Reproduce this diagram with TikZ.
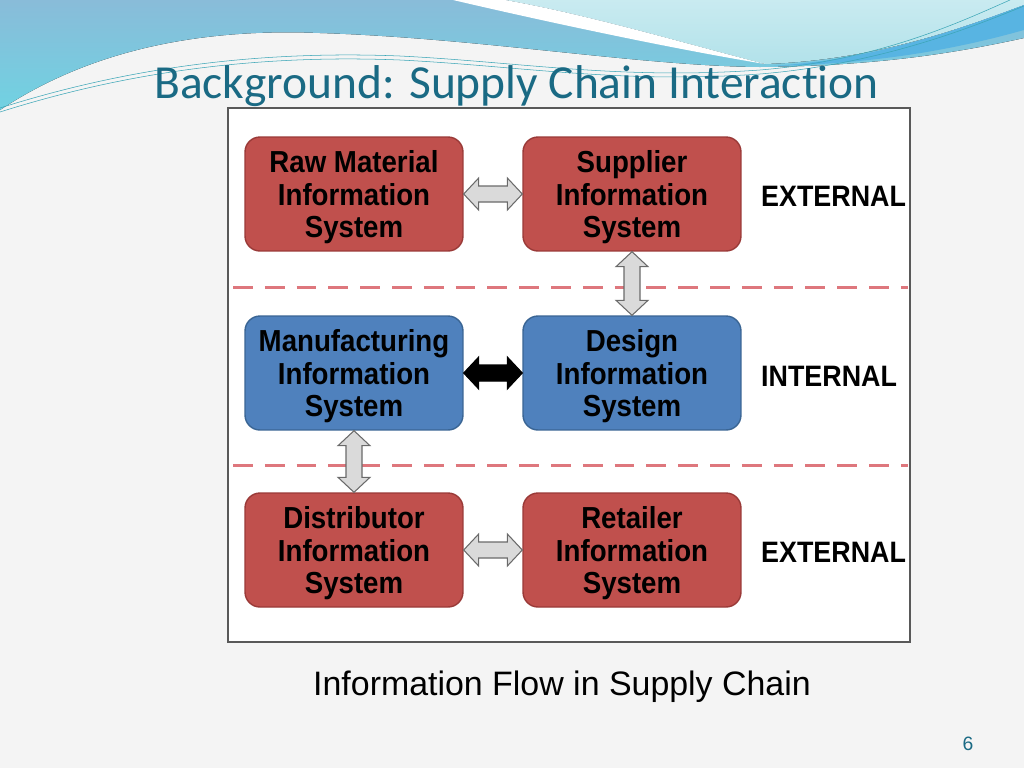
\documentclass[tikz,border=0pt]{standalone}
\usepackage{fontspec}
\setmainfont{Liberation Sans}
\newfontfamily\titlefont[Ligatures={NoCommon,NoContextual,NoRare}]{Carlito}
\newfontfamily\boxfont[FakeStretch=0.91]{Liberation Sans}
\usetikzlibrary{calc}

\definecolor{slidebg}{HTML}{F4F4F4}
\definecolor{hdrblue}{HTML}{89BCD9}
\definecolor{hdrcyan}{HTML}{70D2E2}
\definecolor{hdrlight}{HTML}{B2E2EA}
\definecolor{hdrdeep}{HTML}{58B4E2}
\definecolor{hairteal}{HTML}{3AA5B6}
\definecolor{titleteal}{HTML}{1A6A84}
\definecolor{boxred}{HTML}{C0504D}
\definecolor{boxredline}{HTML}{9A3A38}
\definecolor{boxblue}{HTML}{4F81BD}
\definecolor{boxblueline}{HTML}{3A6594}
\definecolor{dashred}{HTML}{DE777D}
\definecolor{linkfill}{HTML}{DADADA}
\definecolor{linkline}{HTML}{6A6A6A}

\begin{document}
\begin{tikzpicture}[x=0.02cm, y=-0.02cm]
	\tikzset{
		sysbox/.style = {shape=rectangle, rounded corners=8.5pt, minimum width=4.36cm, minimum height=2.28cm,
			inner sep=0pt, align=center, line width=0.8pt, text depth=-4pt, font=\boxfont\bfseries\fontsize{17.3}{18.7}\selectfont},
		extbox/.style = {sysbox, fill=boxred, draw=boxredline},
		intbox/.style = {sysbox, fill=boxblue, draw=boxblueline},
		zone/.style = {anchor=west, font=\boxfont\bfseries\fontsize{16.8}{18}\selectfont},
		divider/.style = {draw=dashred, line width=1.7pt, dash pattern=on 11.3pt off 6.8pt},
		hlink/.style = {line width=0.6pt, line join=miter, to path={-- ++(15,-16) -- ++(0,8) -- ($(\tikztotarget)+(-15,-8)$) -- ++(0,-8) -- (\tikztotarget)
			-- ++(-15,16) -- ++(0,-8) -- ($(\tikztostart)+(15,8)$) -- ++(0,8) -- cycle}},
		vlink/.style = {line width=0.6pt, line join=miter, to path={-- ++(16,15) -- ++(-8,0) -- ($(\tikztotarget)+(8,-15)$) -- ++(8,0) -- (\tikztotarget)
			-- ++(-16,-15) -- ++(8,0) -- ($(\tikztostart)+(-8,15)$) -- ++(-8,0) -- cycle}},
		greylink/.style = {fill=linkfill, draw=linkline},
		blacklink/.style = {fill=black, draw=black}
	}

	% slide background and header swoosh
	\useasboundingbox (0,0) rectangle (1024,768);
	\fill[slidebg] (0,0) rectangle (1024,768);
	\fill[top color=hdrblue, bottom color=hdrcyan] (0,0) -- (1024,0) -- (1024,38) .. controls (960,52) and (880,66) .. (760,67)
		.. controls (640,66) and (480,38) .. (320,33) .. controls (200,28) and (90,50) .. (0,110) -- cycle;
	\fill[top color=hdrlight!70!white, bottom color=hdrlight] (505,0) .. controls (590,15) and (690,45) .. (765,64)
		.. controls (880,60) and (970,25) .. (1024,5) -- (1024,0) -- cycle;
	\fill[hdrdeep] (770,66) .. controls (880,60) and (970,25) .. (1024,5) -- (1024,30) .. controls (960,48) and (880,64) .. (770,66) -- cycle;
	\fill[white] (453,0) .. controls (560,25) and (680,50) .. (765,64) .. controls (690,45) and (590,15) .. (505,0) -- cycle;
	\draw[hairteal, line width=0.3pt] (0,108) .. controls (120,70) and (250,50) .. (400,56) .. controls (520,62) and (620,80) .. (760,70) .. controls (880,60) and (960,22) .. (1010,0);
	\draw[hairteal, line width=0.3pt] (0,112) .. controls (120,74) and (250,54) .. (400,60) .. controls (520,66) and (620,84) .. (760,74) .. controls (880,64) and (970,28) .. (1024,6);

	\node[anchor=base west, text=titleteal, font=\titlefont\fontsize{27}{32}\selectfont] (title) at (148,98) {Background: Supply Chain Interact\kern0pt{}ion};

	% diagram frame
	\fill[white] (228,108) rectangle (910,642);
	\draw[black!65, line width=1.5pt] (228,108) rectangle (910,642);

	\node[extbox] (raw) at (354,194) {Raw Material\\Information\\System};
	\node[extbox] (sup) at (632,194) {Supplier\\Information\\System};
	\node[intbox] (man) at (354,373) {Manufacturing\\Information\\System};
	\node[intbox] (des) at (632,373) {Design\\Information\\System};
	\node[extbox] (dis) at (354,550) {Distributor\\Information\\System};
	\node[extbox] (ret) at (632,550) {Retailer\\Information\\System};

	\node[zone] (ext1) at (755,196) {EXTERNAL};
	\node[zone] (int) at (755,376) {INTERNAL};
	\node[zone] (ext2) at (755,552) {EXTERNAL};

	\coordinate (cutA1) at (233,287);
	\coordinate (cutA2) at (908,287);
	\coordinate (cutB1) at (233,465);
	\coordinate (cutB2) at (908,465);
	\draw[divider] (cutA1) -- (cutA2);
	\draw[divider] (cutB1) -- (cutB2);

	\draw[hlink, greylink] (raw.east) to (sup.west);
	\draw[hlink, blacklink] (man.east) to (des.west);
	\draw[hlink, greylink] (dis.east) to (ret.west);
	\draw[vlink, greylink] (sup.south) to (des.north);
	\draw[vlink, greylink] (man.south) to (dis.north);

	\node[anchor=base, font=\fontsize{19.3}{23}\selectfont] (caption) at (562,695) {Information Flow in Supply Chain};
	\node[anchor=base, text=titleteal, font=\fontsize{11}{13}\selectfont] (page) at (968,750) {6};

\end{tikzpicture}
\end{document}
